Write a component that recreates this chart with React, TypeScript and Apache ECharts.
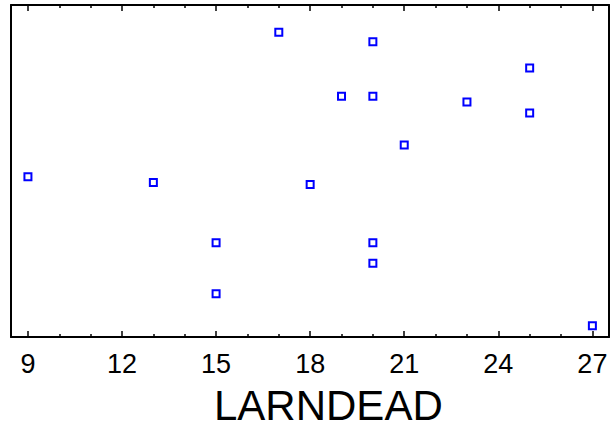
import React, { useEffect, useRef } from "react";
import * as echarts from "echarts";

const xTitle = "LARNDEAD";
const majorTicks = [9, 12, 15, 18, 21, 24, 27];
const minorTicks = [10, 11, 13, 14, 16, 17, 19, 20, 22, 23, 25, 26];
const larndead = [17, 20, 19, 20, 25, 23, 25, 21, 9, 13, 18, 15, 20, 20, 15, 27];
const yValues = [91.8, 88.9, 72.5, 72.5, 81.0, 70.8, 67.5, 57.8, 48.3, 46.5, 45.9, 28.4, 28.4, 22.2, 13.0, 3.4];

const FONT = 'Arial, "Liberation Sans", sans-serif';
const X_MIN = 8.46;
const X_MAX = 27.53;

export default function App() {
  const ref = useRef<HTMLDivElement>(null);
  useEffect(() => {
    if (!ref.current) return;
    const chart = echarts.init(ref.current, null, { renderer: "svg" });
    const lineStyle = { color: "#000", width: 2 };
    const baseX = (position: string, ticks: number[], len: number, labels: boolean, showLine: boolean) => ({
      type: "value",
      position,
      min: X_MIN,
      max: X_MAX,
      splitLine: { show: false },
      axisLine: { show: showLine, onZero: false, lineStyle },
      axisTick: { show: true, inside: true, length: len, customValues: ticks, lineStyle: { color: "#000", width: 1.5 } },
      axisLabel: labels
        ? { show: true, customValues: majorTicks, fontSize: 27, color: "#000", fontFamily: FONT, margin: 13 }
        : { show: false },
    });
    chart.setOption({
      animation: false,
      backgroundColor: "#fff",
      grid: { left: 11, top: 5, width: 598, height: 332, containLabel: false },
      xAxis: [
        baseX("bottom", majorTicks, 6, true, true),
        baseX("bottom", minorTicks, 3, false, false),
        baseX("top", majorTicks, 6, false, true),
        baseX("top", minorTicks, 3, false, false),
      ],
      yAxis: [
        {
          type: "value",
          position: "left",
          min: 0,
          max: 100,
          splitLine: { show: false },
          axisLine: { show: true, onZero: false, lineStyle },
          axisTick: { show: false },
          axisLabel: { show: false },
        },
        {
          type: "value",
          position: "right",
          min: 0,
          max: 100,
          splitLine: { show: false },
          axisLine: { show: true, onZero: false, lineStyle },
          axisTick: { show: false },
          axisLabel: { show: false },
        },
      ],
      series: [
        {
          type: "scatter",
          xAxisIndex: 0,
          yAxisIndex: 0,
          symbol: "rect",
          symbolSize: 7,
          itemStyle: { color: "#fff", borderColor: "#0000ff", borderWidth: 2, opacity: 1 },
          data: larndead.map((x, i) => [x, yValues[i]]),
        },
      ],
      graphic: [
        {
          type: "text",
          left: 214,
          top: 384,
          style: { text: xTitle, font: `42px ${FONT}`, fill: "#000" },
        },
      ],
    });
    return () => chart.dispose();
  }, []);
  return <div ref={ref} style={{ position: "fixed", left: 0, top: 0, width: 615, height: 430 }} />;
}
